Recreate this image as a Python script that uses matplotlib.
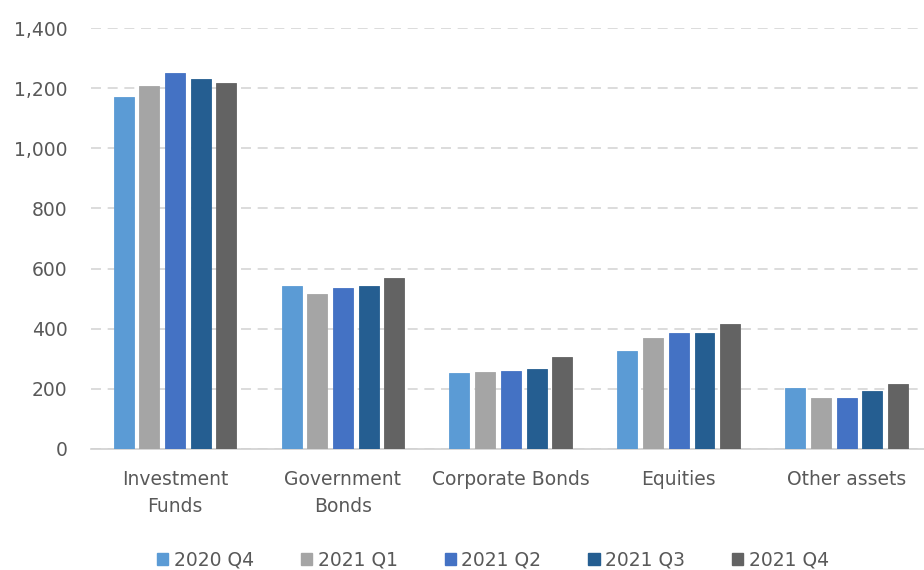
import numpy as np
import matplotlib.pyplot as plt
from matplotlib.patches import Patch

categorias = ["Investment\nFunds", "Government\nBonds", "Corporate Bonds",
              "Equities", "Other assets"]
series = ["2020 Q4", "2021 Q1", "2021 Q2", "2021 Q3", "2021 Q4"]
v_2020q4 = [1172, 543, 252, 326, 202]
v_2021q1 = [1207, 514, 255, 368, 168]
v_2021q2 = [1249, 534, 260, 385, 168]
v_2021q3 = [1231, 543, 266, 385, 193]
v_2021q4 = [1216, 568, 307, 416, 215]
colores = ["#5B9BD5", "#A5A5A5", "#4472C4", "#255E91", "#636363"]

plt.rcParams["font.family"] = ["DejaVu Sans"]
TXT = "#595959"

fig = plt.figure(figsize=(9.24, 5.7), dpi=100)
ax = fig.add_axes([91 / 924, 1 - 449 / 570, 1 - 91 / 924, (449 - 28) / 570])

x = np.arange(len(categorias))
paso = 0.153
ancho = 0.119
valores = [v_2020q4, v_2021q1, v_2021q2, v_2021q3, v_2021q4]
for i, (nombre, vals, c) in enumerate(zip(series, valores, colores)):
    ax.bar(x + (i - 2) * paso, vals, width=ancho, color=c, edgecolor=c,
           linewidth=0.6, label=nombre, zorder=3)

ax.set_ylim(0, 1400)
ax.set_xlim(-0.5, 4.46)
ax.set_yticks(np.arange(0, 1401, 200))
ax.set_yticklabels([f"{v:,}" for v in range(0, 1401, 200)])
ax.yaxis.grid(True, color="#D6D6D6", ls=(0, (6, 4)), lw=1.2, zorder=0)
ax.set_axisbelow(True)
for s in ["top", "right", "left"]:
    ax.spines[s].set_visible(False)
ax.spines["bottom"].set_color("#D0D0D0")
ax.spines["bottom"].set_linewidth(1.2)
ax.tick_params(axis="both", length=0, colors=TXT, labelsize=13.5)
ax.tick_params(axis="y", pad=17)
ax.tick_params(axis="x", pad=15)
ax.set_xticks(x)
ax.set_xticklabels(categorias, linespacing=1.55)

handles = [Patch(facecolor=c, edgecolor=c) for c in colores]
fig.legend(handles, series, loc="center", bbox_to_anchor=(493 / 924, 1 - 560 / 570),
           ncol=5, frameon=False, fontsize=13.5, labelcolor=TXT,
           handlelength=0.6, handleheight=0.6, handletextpad=0.3,
           columnspacing=2.5)

fig.savefig("out.png", dpi=100)
